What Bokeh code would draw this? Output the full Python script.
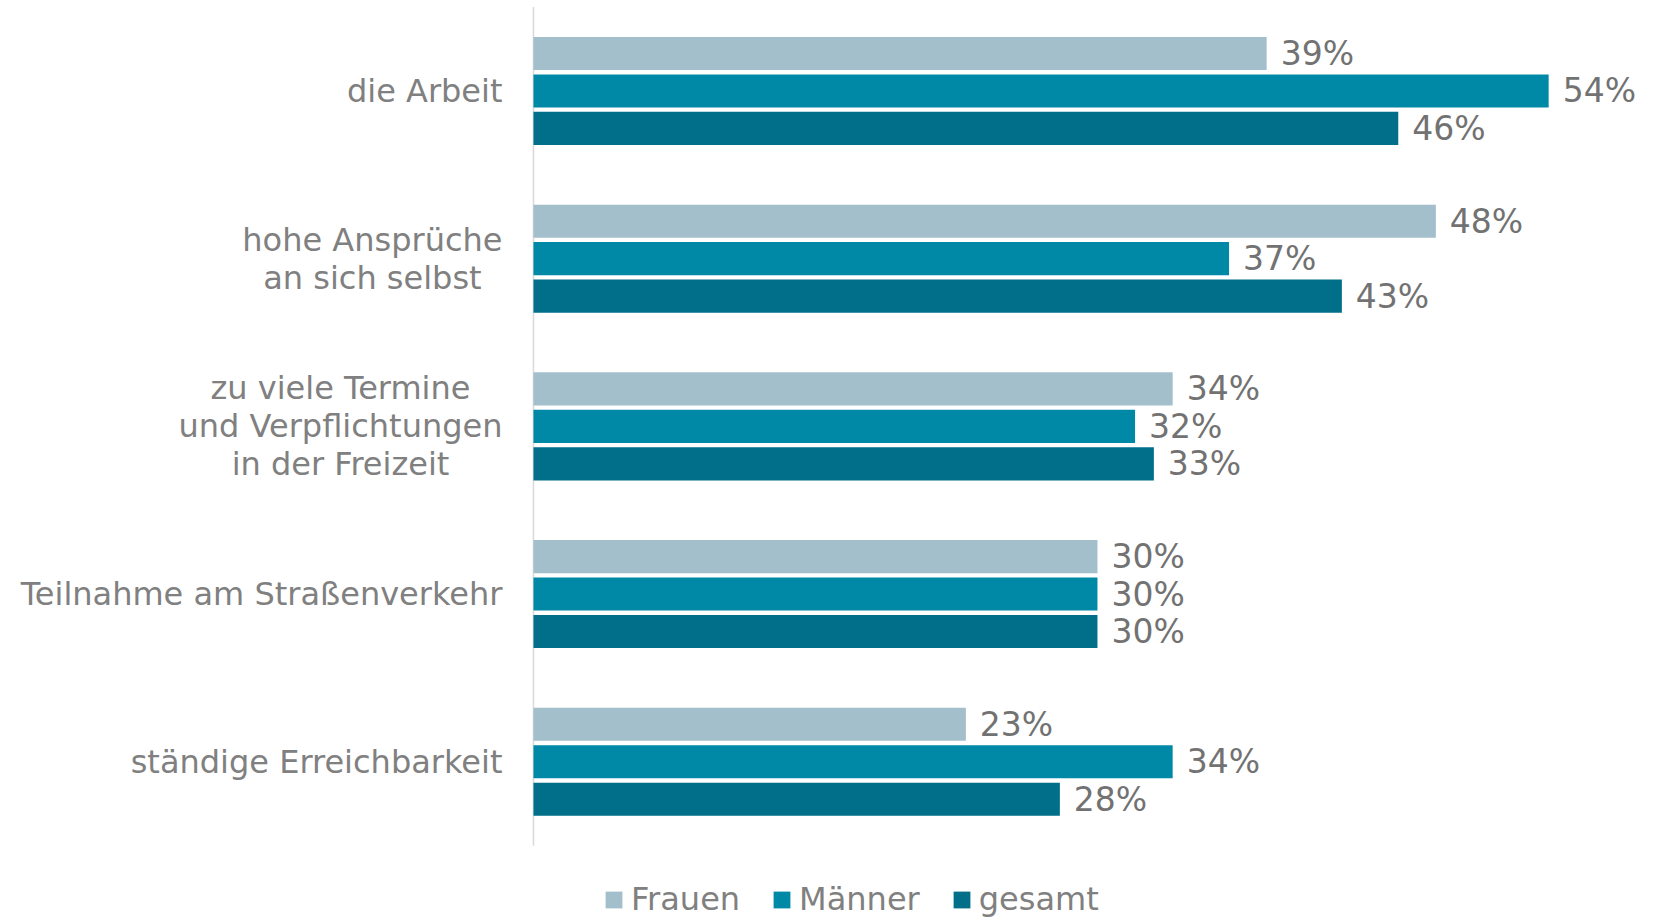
from bokeh.plotting import figure
from bokeh.models import ColumnDataSource, Legend, LegendItem, Range1d
from bokeh.transform import dodge
from bokeh.embed import file_html
from bokeh.resources import INLINE
from bokeh.core.properties import value

categories = ["die Arbeit", "hohe Ansprüche\nan sich selbst", "zu viele Termine\nund Verpflichtungen\nin der Freizeit",
              "Teilnahme am Straßenverkehr", "ständige Erreichbarkeit"]
series = ["Frauen", "Männer", "gesamt"]
frauen = [39, 48, 34, 30, 23]
maenner = [54, 37, 32, 30, 34]
gesamt = [46, 43, 33, 30, 28]
colors = ["#a3bfcc", "#0089a6", "#016f89"]

FONT = "DejaVu Sans"

idx = list(range(len(categories)))

p = figure(width=1654, height=920, output_backend="svg", toolbar_location=None,
           x_range=Range1d(-28.35, 59.63), y_range=Range1d(4.946, -0.539),
           min_border_left=0, min_border_right=0, min_border_top=0, min_border_bottom=0)

src = ColumnDataSource(dict(idx=idx, cat=categories, Frauen=frauen, Männer=maenner, gesamt=gesamt,
                            lF=[f"{v}%" for v in frauen], lM=[f"{v}%" for v in maenner],
                            lG=[f"{v}%" for v in gesamt], zero=[0] * len(categories)))

# vertical category axis line
p.segment(x0=[0], x1=[0], y0=[idx[0] - 0.5], y1=[idx[-1] + 0.5], line_color="#d9d9d9", line_width=1.5)

offsets = [-0.2235, 0.0, 0.2235]
lab_cols = ["lF", "lM", "lG"]
renderers = []
for s, c, off, lc in zip(series, colors, offsets, lab_cols):
    r = p.hbar(y=dodge("idx", off), right=s, left=0, height=0.197,
               color=c, line_color=None, source=src)
    renderers.append(r)
    p.text(x=s, y=dodge("idx", off), text=lc, source=src,
           x_offset=14, text_baseline="middle", text_align="left",
           text_font=value(FONT), text_font_size="33px", text_color="#727272")

# category labels (right-anchored block, centred lines)
p.text(x="zero", y="idx", text="cat", source=src, x_offset=-31,
       anchor="center_right", text_align="center", text_baseline="middle",
       text_line_height=1.0,
       text_font=value(FONT), text_font_size="32px", text_color="#808080")

legend = Legend(items=[LegendItem(label=s, renderers=[r]) for s, r in zip(series, renderers)],
                orientation="horizontal", location=(603, 2),
                glyph_width=21, glyph_height=21, label_standoff=7, spacing=31,
                padding=0, margin=0, border_line_color=None, background_fill_alpha=0,
                label_text_font=FONT, label_text_font_size="32px", label_text_color="#808080")
p.add_layout(legend, "center")

p.xaxis.visible = False
p.yaxis.visible = False
p.xgrid.visible = False
p.ygrid.visible = False
p.outline_line_color = None

open("out.html", "w").write(file_html(p, INLINE))
